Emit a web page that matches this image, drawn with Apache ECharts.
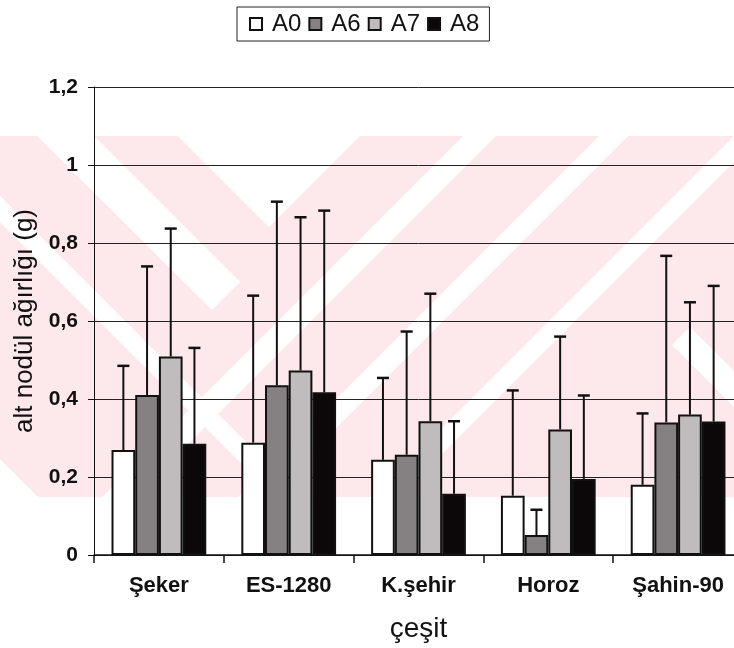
<!DOCTYPE html>
<html>
<head>
<meta charset="utf-8">
<script src="https://cdn.jsdelivr.net/npm/echarts@6/dist/echarts.min.js"></script>
<style>html,body{margin:0;padding:0;background:#fff;overflow:hidden}#c{width:743px;height:648px}</style>
</head>
<body>
<div id="c"></div>
<script>
// ---- data ----
var categories = ['Şeker', 'ES-1280', 'K.şehir', 'Horoz', 'Şahin-90'];
var seriesNames = ['A0', 'A6', 'A7', 'A8'];
var meanA0 = [0.269, 0.288, 0.244, 0.152, 0.180];
var meanA6 = [0.410, 0.435, 0.257, 0.051, 0.340];
var meanA7 = [0.509, 0.473, 0.343, 0.322, 0.360];
var meanA8 = [0.285, 0.417, 0.157, 0.195, 0.342];
var upperA0 = [0.485, 0.665, 0.454, 0.422, 0.363];
var upperA6 = [0.740, 0.906, 0.573, 0.116, 0.767];
var upperA7 = [0.837, 0.866, 0.670, 0.560, 0.648];
var upperA8 = [0.531, 0.883, 0.343, 0.409, 0.690];
var yTickValues = [0, 0.2, 0.4, 0.6, 0.8, 1.0, 1.2];
var yTickLabels = ['0', '0,2', '0,4', '0,6', '0,8', '1', '1,2'];
var yAxisTitle = 'alt nodül ağırlığı (g)';
var xAxisTitle = 'çeşit';

var means = [meanA0, meanA6, meanA7, meanA8];
var uppers = [upperA0, upperA6, upperA7, upperA8];
var fills = ['#ffffff', '#858182', '#c0bcbd', '#0c0809'];

var CAT_GAP = 0.27;
var FONT = 'Liberation Sans, Arial, sans-serif';

var chart = echarts.init(document.getElementById('c'), null, {renderer: 'canvas'});

var series = [];
seriesNames.forEach(function (name, i) {
  series.push({
    name: name, type: 'bar', z: 3,
    barGap: '0%', barCategoryGap: (CAT_GAP * 100) + '%',
    itemStyle: {color: fills[i], borderColor: '#111', borderWidth: 2},
    data: means[i]
  });
});
seriesNames.forEach(function (name, i) {
  var d = categories.map(function (c, k) { return [k, means[i][k], uppers[i][k]]; });
  series.push({
    type: 'custom', name: name + '_err', z: 4, silent: true,
    data: d,
    renderItem: function (params, api) {
      var k = api.value(0);
      var cw = api.size([1, 0])[0];
      var group = cw * (1 - CAT_GAP);
      var bw = group / 4;
      var base = api.coord([k, api.value(1)]);
      var top = api.coord([k, api.value(2)]);
      var x = base[0] - group / 2 + bw * (i + 0.5);
      var cap = 6;
      return {
        type: 'group',
        children: [
          {type: 'line', shape: {x1: x, y1: base[1], x2: x, y2: top[1]}, style: {stroke: '#111', lineWidth: 2}},
          {type: 'line', shape: {x1: x - cap, y1: top[1], x2: x + cap, y2: top[1]}, style: {stroke: '#111', lineWidth: 2.5}}
        ]
      };
    }
  });
});

// watermark decoration (background)
var PINK = '#fde9ec';
var wm = [
  {type: 'rect', shape: {x: 0, y: 136, width: 743, height: 361}, style: {fill: PINK}},
  {type: 'polygon', shape: {points: [[37,136],[94,136],[240,282],[212,310]]}, style: {fill: '#fff'}},
  {type: 'polygon', shape: {points: [[178,136],[360,136],[269,227]]}, style: {fill: '#fff'}},
  {type: 'polygon', shape: {points: [[0,196],[0,222],[275,497],[301,497]]}, style: {fill: '#fff'}},
  {type: 'polygon', shape: {points: [[463,136],[496,136],[135,497],[102,497]]}, style: {fill: '#fff'}},
  {type: 'polygon', shape: {points: [[599,136],[628,136],[267,497],[238,497]]}, style: {fill: '#fff'}},
  {type: 'polygon', shape: {points: [[734,136],[760,136],[399,497],[373,497]]}, style: {fill: '#fff'}},
  {type: 'polygon', shape: {points: [[672,345],[690,327],[743,380],[743,416]]}, style: {fill: '#fff'}},
  {type: 'polygon', shape: {points: [[0,497],[38,497],[0,459]]}, style: {fill: '#fff'}}
];
wm.forEach(function (g) { g.z = -10; g.silent = true; });

chart.setOption({
  animation: false,
  backgroundColor: '#fff',
  textStyle: {fontFamily: FONT},
  graphic: {elements: wm},
  legend: {
    data: seriesNames,
    left: 237, top: 7,
    padding: [5, 10, 5, 12],
    itemWidth: 12, itemHeight: 12, itemGap: 7,
    icon: 'rect',
    borderColor: '#222', borderWidth: 1, backgroundColor: '#fff',
    textStyle: {fontSize: 24, color: '#111', fontFamily: FONT, padding: [0, 0, 0, 5]}
  },
  grid: {left: 94, top: 87, right: 0, bottom: 91},
  xAxis: {
    type: 'category', data: categories,
    name: xAxisTitle, nameLocation: 'middle', nameGap: 60,
    nameTextStyle: {fontSize: 28, color: '#111', fontFamily: FONT},
    axisLine: {lineStyle: {color: '#111', width: 1.5}},
    axisTick: {show: true, length: 8, lineStyle: {color: '#111', width: 1.5}},
    axisLabel: {fontSize: 22, fontWeight: 'bold', color: '#111', margin: 20, fontFamily: FONT},
    splitLine: {show: false}
  },
  yAxis: {
    type: 'value', min: 0, max: 1.2, interval: 0.2,
    name: yAxisTitle, nameLocation: 'middle', nameGap: 51, nameRotate: 90,
    nameTextStyle: {fontSize: 26, color: '#111', fontFamily: FONT},
    axisLine: {show: true, lineStyle: {color: '#111', width: 1}},
    axisTick: {show: true, length: 6, lineStyle: {color: '#111'}},
    axisLabel: {
      fontSize: 21, fontWeight: 'bold', color: '#111', margin: 16, fontFamily: FONT,
      formatter: function (v) {
        for (var t = 0; t < yTickValues.length; t++) {
          if (Math.abs(yTickValues[t] - v) < 1e-6) return yTickLabels[t];
        }
        return '';
      }
    },
    splitLine: {show: true, lineStyle: {color: '#222', width: 1}}
  },
  series: series
});
</script>
</body>
</html>
